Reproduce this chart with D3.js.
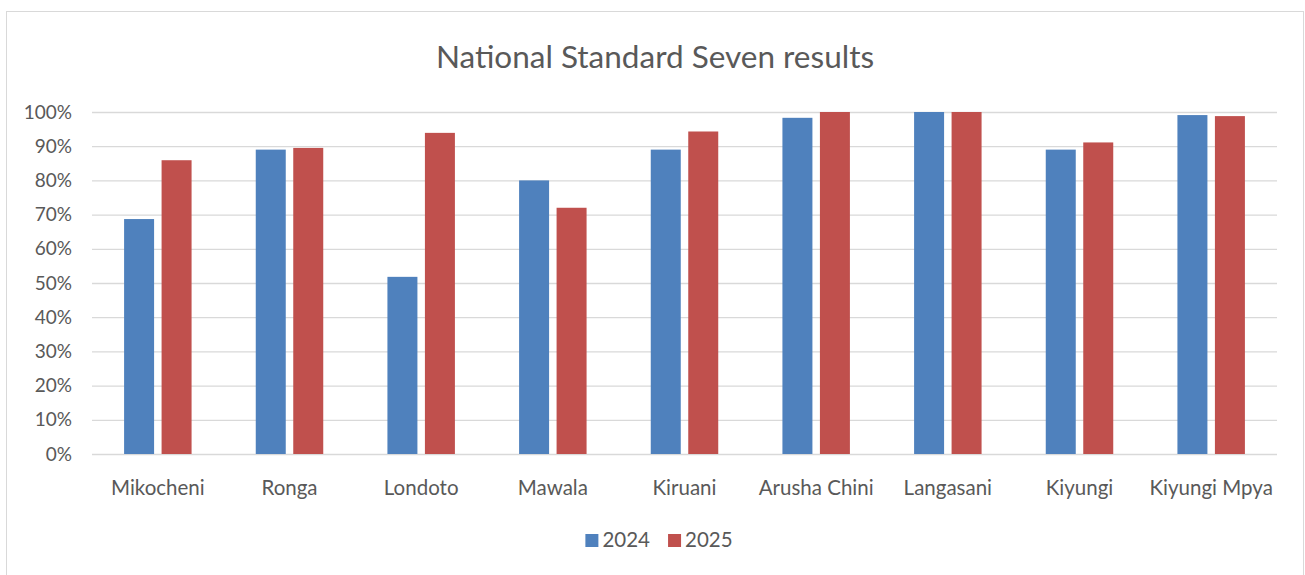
<!DOCTYPE html>
<html>
<head>
<meta charset="utf-8">
<script src="https://cdn.jsdelivr.net/npm/d3@7"></script>
<style>
  html, body { margin: 0; padding: 0; background: #ffffff; }
  svg { display: block; }
</style>
</head>
<body>
<svg id="chart" width="1305" height="575"></svg>
<script>
const title = "National Standard Seven results";
const schools = ["Mikocheni", "Ronga", "Londoto", "Mawala", "Kiruani", "Arusha Chini", "Langasani", "Kiyungi", "Kiyungi Mpya"];
const seriesNames = ["2024", "2025"];
const values2024 = [0.687, 0.890, 0.518, 0.800, 0.890, 0.983, 1.000, 0.890, 0.991];
const values2025 = [0.859, 0.895, 0.939, 0.720, 0.943, 1.000, 1.000, 0.911, 0.988];
const yTicks = [0, 0.1, 0.2, 0.3, 0.4, 0.5, 0.6, 0.7, 0.8, 0.9, 1.0];
const colors = ["#4F81BD", "#C0504D"];

const seriesValues = [values2024, values2025];
const rows = schools.map((s, i) => ({ school: s, vals: seriesNames.map((n, j) => ({ key: n, value: seriesValues[j][i], color: colors[j] })) }));

const W = 1305, H = 575;
const FONT = "Lato, 'Open Sans', sans-serif";
const TEXT = "#595959";
const svg = d3.select("#chart");

// chart-area border
svg.append("rect")
  .attr("x", 6.5).attr("y", 11.5).attr("width", 1297).attr("height", 600)
  .attr("fill", "#fff").attr("stroke", "#D9D9D9").attr("stroke-width", 1);

const plot = { left: 92, right: 1277, top: 112, bottom: 454 };

const x0 = d3.scaleBand().domain(schools).range([plot.left, plot.right]).padding(0);
const x1 = d3.scaleBand().domain(seriesNames).range([0, x0.bandwidth()]).paddingInner(0.2).paddingOuter(0.856);
const y = d3.scaleLinear().domain([0, 1]).range([plot.bottom, plot.top]);

// gridlines
svg.append("g")
  .attr("transform", `translate(${plot.left},0)`)
  .call(d3.axisLeft(y).tickValues(yTicks).tickSize(-(plot.right - plot.left)).tickFormat(""))
  .call(g => g.select(".domain").remove())
  .call(g => g.selectAll("line").attr("stroke", "#D9D9D9").attr("stroke-width", 1.3));

// y tick labels
svg.append("g")
  .attr("transform", `translate(${plot.left},0)`)
  .call(d3.axisLeft(y).tickValues(yTicks).tickSize(0).tickPadding(20).tickFormat(d3.format(".0%")))
  .call(g => g.select(".domain").remove())
  .call(g => g.selectAll("text").attr("fill", TEXT).attr("font-family", FONT).attr("font-size", 19));

// bars
const groups = svg.append("g").selectAll("g").data(rows).join("g")
  .attr("transform", d => `translate(${x0(d.school)},0)`);
groups.selectAll("rect").data(d => d.vals).join("rect")
  .attr("x", d => x1(d.key))
  .attr("width", x1.bandwidth())
  .attr("y", d => y(d.value))
  .attr("height", d => y(0) - y(d.value))
  .attr("fill", d => d.color);

// x axis labels
svg.append("g")
  .attr("transform", `translate(0,${plot.bottom})`)
  .call(d3.axisBottom(x0).tickSize(0).tickPadding(26))
  .call(g => g.select(".domain").remove())
  .call(g => g.selectAll("text").attr("fill", TEXT).attr("font-family", FONT).attr("font-size", 20.5));

// title
svg.append("text")
  .attr("x", 655).attr("y", 68)
  .attr("text-anchor", "middle")
  .attr("fill", TEXT).attr("font-family", FONT).attr("font-size", 31.5)
  .text(title);

// legend
const legend = svg.append("g");
const items = legend.selectAll("g").data(seriesNames).join("g");
items.append("rect").attr("width", 13).attr("height", 13).attr("y", -13)
  .attr("fill", (d, i) => colors[i]);
items.append("text").attr("x", 17).attr("y", 0)
  .attr("fill", TEXT).attr("font-family", FONT).attr("font-size", 20.5)
  .text(d => d);
let cx = 0;
items.each(function () {
  d3.select(this).attr("transform", `translate(${cx},0)`);
  cx += this.getBBox().width + 18;
});
const total = cx - 18;
legend.attr("transform", `translate(${659 - total / 2},547)`);
</script>
</body>
</html>
